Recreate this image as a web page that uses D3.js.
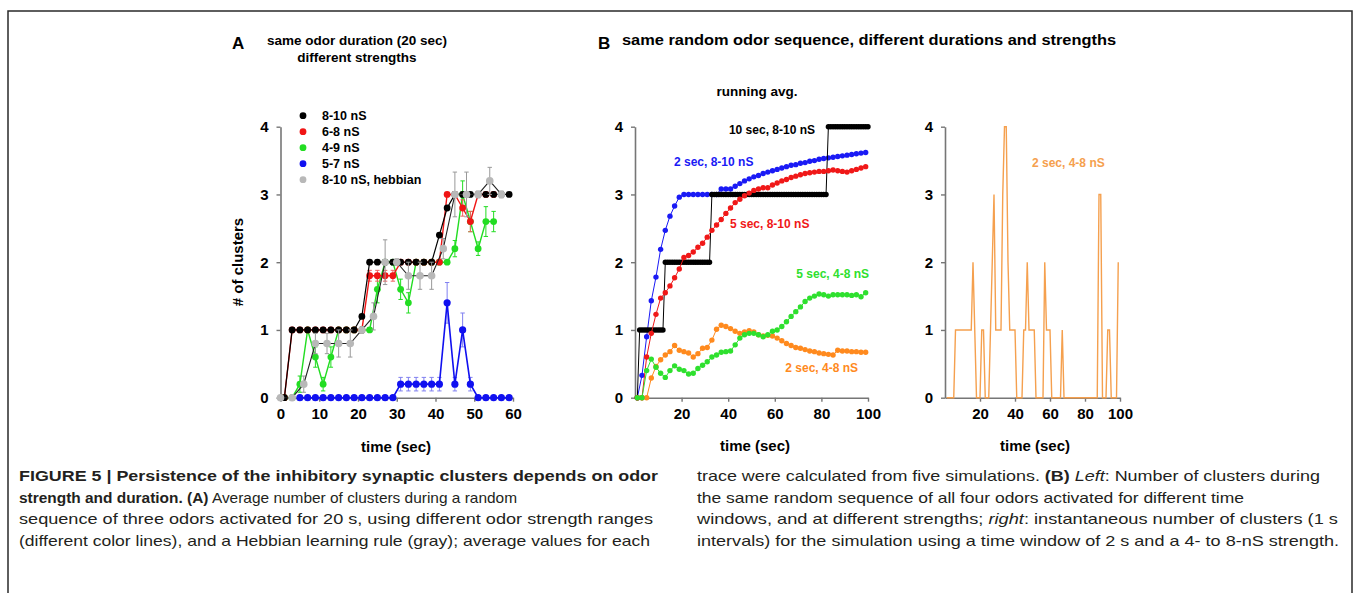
<!DOCTYPE html>
<html>
<head>
<meta charset="utf-8">
<script src="https://cdn.jsdelivr.net/npm/d3@7"></script>
<style>
body { margin: 0; background: #fff; }
svg text { font-family: "Liberation Sans", Arial, Helvetica, sans-serif; }
</style>
</head>
<body>
<svg id="fig" width="1354" height="593"></svg>
<script>
// ---- panel A data (20 s odor duration, averages of 5 runs) ----
const timesA = [1,3,5,7,9,11,13,15,17,19,21,23,25,27,29,31,33,35,37,39,41,43,45,47,49,51,53,55,57,59];
const black810 = [0,1,1,1,1,1,1,1,1,1,1.2,2,2,2,2,2,2,2,2,2,2.4,2.8,3,3,3,3,3,3,3,3];
const red68 = [0,1,1,1,1,1,1,1,1,1,1,1.8,1.8,1.8,1.8,2,2,2,2,2,2,3,3,2.8,2.6,3,3,3];
const red68Err = [0,0,0,0,0,0,0,0,0,0,0,0.08,0.08,0.08,0.08,0,0,0,0,0,0,0,0,0.12,0.15,0,0,0];
const green49 = [0,0,0.2,1,0.6,0.2,0.6,1,1,1,1,1,1.6,2,2,1.6,1.4,2,2,2,2,2,2.2,3,2.6,2.2,2.6,2.6];
const green49Err = [0,0,0.12,0,0.15,0.1,0.15,0,0,0,0,0,0.2,0,0,0.15,0.15,0,0,0,0,0,0.12,0.2,0.15,0.1,0.22,0.15];
const timesBlue = [5,7,9,11,13,15,17,19,21,23,25,27,29,31,33,35,37,39,41,43,45,47,49,51,53,55,57,59];
const blue57 = [0,0,0,0,0,0,0,0,0,0,0,0,0,0.2,0.2,0.2,0.2,0.2,0.2,1.4,0.2,1,0.2,0,0,0,0,0];
const blue57Err = [0,0,0,0,0,0,0,0,0,0,0,0,0,0.1,0.1,0.1,0.1,0.1,0.1,0.3,0.1,0.25,0.1,0,0,0,0,0];
const timesHebb = [0,3,6,9,12,15,18,21,24,27,30,33,36,39,42,45,48,51,54,57];
const hebb = [0,0,0.2,0.8,0.8,0.8,0.8,1,1.2,2,2,1.8,1.8,1.8,2.2,3,3,3,3.2,3];
const hebbErr = [0,0,0.12,0.15,0.15,0.2,0.2,0.05,0.2,0.33,0.05,0.2,0.2,0.2,0.15,0.33,0.33,0.05,0.2,0.05];
const legendA = ["8-10 nS", "6-8 nS", "4-9 nS", "5-7 nS", "8-10 nS, hebbian"];

// ---- panel B data (running averages) ----
const timesB = [1,3,5,7,9,11,13,15,17,19,21,23,25,27,29,31,33,35,37,39,41,43,45,47,49,
                51,53,55,57,59,61,63,65,67,69,71,73,75,77,79,81,83,85,87,89,91,93,95,97,99];
const avg2s810 = [0,0.33,0.9,1.43,1.78,2.19,2.47,2.68,2.83,2.96,3,3,3,3,3,3,3,3,3.08,3.08,
                  3.08,3.12,3.16,3.2,3.23,3.26,3.28,3.31,3.33,3.35,3.37,3.39,3.41,3.43,3.44,3.46,3.47,3.49,3.5,3.52,
                  3.53,3.54,3.55,3.56,3.57,3.58,3.59,3.6,3.61,3.62];
const avg5s810 = [0,0,0.6,0.95,1.23,1.47,1.55,1.65,1.77,1.9,2.07,2.1,2.15,2.22,2.28,2.37,2.47,2.55,2.63,2.72,
                  2.8,2.88,2.93,2.98,3.02,3.06,3.08,3.1,3.1,3.14,3.17,3.2,3.22,3.25,3.27,3.29,3.31,3.32,3.33,3.34,
                  3.34,3.35,3.36,3.35,3.34,3.33,3.35,3.37,3.39,3.41];
const avg5s48 = [0,0,0.4,0.57,0.45,0.36,0.3,0.4,0.47,0.42,0.4,0.35,0.36,0.43,0.48,0.53,0.6,0.63,0.67,0.68,
                 0.69,0.78,0.88,0.93,0.95,0.95,0.93,0.9,0.93,0.98,1,1.05,1.12,1.2,1.27,1.34,1.42,1.47,1.5,1.53,
                 1.52,1.5,1.52,1.52,1.52,1.52,1.51,1.52,1.49,1.55];
const avg2s48 = [0,0,0,0.29,0.46,0.56,0.63,0.68,0.77,0.7,0.68,0.66,0.6,0.65,0.73,0.74,0.85,1.01,1.07,1.05,
                 1.02,0.98,0.95,0.97,0.99,0.97,0.93,0.91,0.92,0.91,0.88,0.84,0.8,0.77,0.74,0.73,0.71,0.69,0.68,0.66,
                 0.65,0.64,0.63,0.7,0.69,0.69,0.68,0.68,0.67,0.67];
// 10 s window, sampled every second
const times1s = d3.range(1, 101);
const avg10s810 = [0,1,1,1,1,1,1,1,1,1, 1,1,2,2,2,2,2,2,2,2, 2,2,2,2,2,2,2,2,2,2, 2,2,3,3,3,3,3,3,3,3,
                   3,3,3,3,3,3,3,3,3,3, 3,3,3,3,3,3,3,3,3,3, 3,3,3,3,3,3,3,3,3,3, 3,3,3,3,3,3,3,3,3,3,
                   3,3,4,4,4,4,4,4,4,4, 4,4,4,4,4,4,4,4,4,4];

// ---- panel B right: instantaneous count, 2 s / 4-8 nS ----
const timesInst = d3.range(1, 100);
const inst2s48 = [0,0,0,0,0,1,1,1,1,1, 1,1,1,1,1,2,1,0,0,0, 1,1,0,0,0,1,2,3,1,1, 1,1,3,4,4,2,1,1,1,1,
                  0,0,0,0,1,1,2,1,1,1, 1,0,0,0,0,0,2,1,1,1, 0,0,0,0,0,0,1,0,0,0, 0,0,0,0,0,0,0,0,0,0,
                  0,0,0,0,0,0,0,3,3,0, 0,0,1,1,0,0,0,0,2];

const xTicksA = [0,10,20,30,40,50,60];
const xTicksB = [20,40,60,80,100];
const yTicks = [0,1,2,3,4];

const svg = d3.select("#fig");
const axisColor = "#767676";

// frame
svg.append("path")
  .attr("d", "M8,593 L8,11 L1352,11 L1352,593")
  .attr("fill", "none").attr("stroke", "#2a2a2a").attr("stroke-width", 1.5);

// scales
const yAll = d3.scaleLinear().domain([0, 4]).range([397.7, 126.7]);
const xA = d3.scaleLinear().domain([0, 60]).range([280.5, 513]);
const xB = d3.scaleLinear().domain([0, 100]).range([635, 868]);
const xC = d3.scaleLinear().domain([0, 100]).range([945, 1120]);

function drawAxes(x, xticks) {
  const gx = svg.append("g").attr("transform", `translate(0,${yAll(0)})`)
    .call(d3.axisBottom(x).tickValues(xticks).tickFormat(d3.format("d"))
      .tickSize(4).tickSizeOuter(0).tickPadding(7));
  const gy = svg.append("g").attr("transform", `translate(${x(0)},0)`)
    .call(d3.axisLeft(yAll).tickValues(yTicks).tickFormat(d3.format("d"))
      .tickSize(4).tickSizeOuter(0).tickPadding(8));
  [gx, gy].forEach(g => {
    g.select(".domain").attr("stroke", axisColor).attr("stroke-width", 1.6);
    g.selectAll(".tick line").attr("stroke", axisColor).attr("stroke-width", 1.4);
    g.selectAll(".tick text").attr("fill", "#000").attr("font-size", 15).attr("font-weight", "bold")
      .style("font-family", '"Liberation Sans", Arial, sans-serif');
  });
}

function series(x, ts, vs, opt) {
  const pts = ts.slice(0, vs.length).map((t, i) => [t, vs[i]]);
  const g = svg.append("g");
  if (opt.err) {
    const eb = g.append("g").attr("stroke", opt.errColor || opt.fill).attr("stroke-width", 1);
    pts.forEach((p, i) => {
      const e = opt.err[i];
      if (!e) return;
      const cx = x(p[0]);
      eb.append("line").attr("x1", cx).attr("x2", cx).attr("y1", yAll(p[1] - e)).attr("y2", yAll(p[1] + e));
      [p[1] - e, p[1] + e].forEach(v => eb.append("line")
        .attr("x1", cx - 2.2).attr("x2", cx + 2.2).attr("y1", yAll(v)).attr("y2", yAll(v)));
    });
  }
  if (opt.line !== false) {
    g.append("path").datum(pts)
      .attr("d", d3.line().x(d => x(d[0])).y(d => yAll(d[1])))
      .attr("fill", "none").attr("stroke", opt.stroke || opt.fill).attr("stroke-width", opt.lw || 1.2);
  }
  if (opt.r) {
    g.selectAll("circle").data(pts).join("circle")
      .attr("cx", d => x(d[0])).attr("cy", d => yAll(d[1])).attr("r", opt.r)
      .attr("fill", opt.fill);
  }
}

function label(x, y, txt, opt = {}) {
  const t = svg.append("text").attr("x", x).attr("y", y).text(txt)
    .attr("font-size", opt.size || 12).attr("font-weight", opt.weight || "bold")
    .attr("fill", opt.fill || "#000").attr("text-anchor", opt.anchor || "start");
  if (opt.width) t.attr("textLength", opt.width).attr("lengthAdjust", "spacingAndGlyphs");
  return t;
}

// ---------- panel A ----------
drawAxes(xA, xTicksA);
const colA = { black: "#000000", red: "#f01515", green: "#22dd22", blue: "#1010f0", gray: "#b8b8b8" };
series(xA, timesA, green49, { fill: colA.green, err: green49Err, r: 3.4, lw: 1.4 });
series(xA, timesA, red68, { fill: colA.red, err: red68Err, errColor: "#f06060", r: 3.4, lw: 1.4 });
series(xA, timesBlue, blue57, { fill: colA.blue, err: blue57Err, errColor: "#8080f0", r: 3.6, lw: 1.6 });
series(xA, timesA, black810, { fill: colA.black, r: 3.4, lw: 1.2 });
series(xA, timesHebb, hebb, { fill: colA.gray, stroke: "#222", err: hebbErr, errColor: "#999", r: 3.8, lw: 1.1 });

[colA.black, colA.red, colA.green, colA.blue, colA.gray].forEach((c, i) => {
  const yy = 115.7 + i * 16;
  svg.append("circle").attr("cx", 303).attr("cy", yy).attr("r", 3.4).attr("fill", c);
  label(322, yy + 4.5, legendA[i], { size: 12.5 });
});

svg.append("text").attr("transform", "translate(243,262) rotate(-90)")
  .attr("text-anchor", "middle").attr("font-size", 15).attr("font-weight", "bold").text("# of clusters");
label(396, 452, "time (sec)", { size: 15, anchor: "middle" });

label(232, 49, "A", { size: 17 });
label(357, 45, "same odor duration (20 sec)", { size: 13.5, anchor: "middle" });
label(357, 62, "different strengths", { size: 13.5, anchor: "middle" });
label(598, 49, "B", { size: 17 });
label(622, 45, "same random odor sequence, different durations and strengths", { size: 14, width: 494 });
label(757, 96, "running avg.", { size: 13.5, anchor: "middle" });

// ---------- panel B left ----------
drawAxes(xB, xTicksB);
series(xB, timesB, avg2s810, { fill: "#1a1af5", r: 2.7, lw: 1 });
series(xB, times1s, avg10s810, { fill: "#000", r: 2.7, lw: 1 });
series(xB, timesB, avg5s810, { fill: "#f01818", r: 2.7, lw: 1 });
series(xB, timesB, avg2s48, { fill: "#ff8a1e", r: 2.7, lw: 1 });
series(xB, timesB, avg5s48, { fill: "#2ee02e", r: 2.7, lw: 1 });
label(815, 134, "10 sec, 8-10 nS", { size: 12, anchor: "end" });
label(674, 166, "2 sec, 8-10 nS", { size: 12, fill: "#1a1af5" });
label(730, 228, "5 sec, 8-10 nS", { size: 12, fill: "#f01818" });
label(869, 278, "5 sec, 4-8 nS", { size: 12, fill: "#2ee02e", anchor: "end" });
label(858, 372, "2 sec, 4-8 nS", { size: 12, fill: "#ff8a1e", anchor: "end" });
label(755, 451, "time (sec)", { size: 15, anchor: "middle" });

// ---------- panel B right ----------
drawAxes(xC, xTicksB);
series(xC, timesInst, inst2s48, { stroke: "#f5a04e", fill: "none", lw: 1.4 });
label(1032, 167, "2 sec, 4-8 nS", { size: 12, fill: "#f5a04e" });
label(1035, 451, "time (sec)", { size: 15, anchor: "middle" });

// ---------- caption ----------
function capLine(x, y, width, parts) {
  const t = svg.append("text").attr("x", x).attr("y", y).attr("font-size", 14.5).attr("fill", "#231f20")
    .attr("textLength", width).attr("lengthAdjust", "spacingAndGlyphs");
  parts.forEach(p => t.append("tspan").text(p[0])
    .attr("font-weight", p[1] === "b" ? "bold" : "normal")
    .attr("font-style", p[1] === "i" ? "italic" : "normal"));
}
capLine(19, 481, 639, [["FIGURE 5 | Persistence of the inhibitory synaptic clusters depends on odor", "b"]]);
capLine(19, 503, 498, [["strength and duration. (A)", "b"], [" Average number of clusters during a random", ""]]);
capLine(19, 524, 634, [["sequence of three odors activated for 20 s, using different odor strength ranges", ""]]);
capLine(19, 546, 631, [["(different color lines), and a Hebbian learning rule (gray); average values for each", ""]]);
capLine(697, 481, 623, [["trace were calculated from five simulations. ", ""], ["(B)", "b"], [" ", ""], ["Left", "i"], [": Number of clusters during", ""]]);
capLine(697, 503, 547, [["the same random sequence of all four odors activated for different time", ""]]);
capLine(697, 524, 641, [["windows, and at different strengths; ", ""], ["right", "i"], [": instantaneous number of clusters (1 s", ""]]);
capLine(697, 546, 642, [["intervals) for the simulation using a time window of 2 s and a 4- to 8-nS strength.", ""]]);
</script>
</body>
</html>
